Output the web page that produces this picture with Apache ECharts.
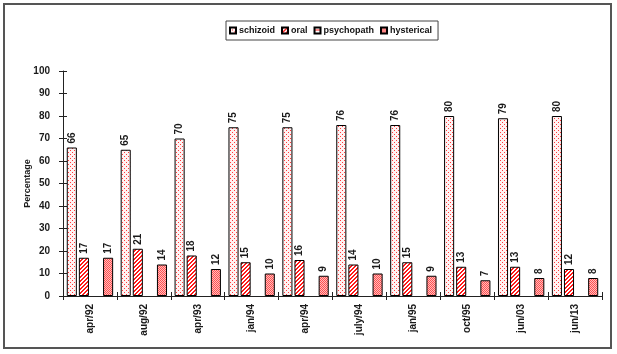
<!DOCTYPE html>
<html>
<head>
<meta charset="utf-8">
<script src="https://cdn.jsdelivr.net/npm/echarts@6/dist/echarts.min.js"></script>
<style>
  html, body { margin: 0; padding: 0; background: #fff; }
  #chart { width: 617px; height: 354px; }
</style>
</head>
<body>
<div id="chart"></div>
<script>
// 数据
var categories = ['apr/92', 'aug/92', 'apr/93', 'jan/94', 'apr/94', 'july/94', 'jan/95', 'oct/95', 'jun/03', 'jun/13']
var schizoid = [66, 65, 70, 75, 75, 76, 76, 80, 79, 80]
var oral = [17, 21, 18, 15, 16, 14, 15, 13, 13, 12]
var psychopath = [null, null, null, null, null, null, null, null, null, null]
var hysterical = [17, 14, 12, 10, 9, 10, 9, 7, 8, 8]
var yTicks = [0, 100, 10] // min, max, interval

var FONT = "'Liberation Sans', Arial, sans-serif"

// 小图案 (Excel 风格填充)
function makePattern(size, bg, fn) {
  var c = document.createElement('canvas')
  c.width = size
  c.height = size
  var ctx = c.getContext('2d')
  ctx.fillStyle = bg
  ctx.fillRect(0, 0, size, size)
  for (var y = 0; y < size; y++) {
    for (var x = 0; x < size; x++) {
      var col = fn(x, y)
      if (col) {
        ctx.fillStyle = col
        ctx.fillRect(x, y, 1, 1)
      }
    }
  }
  return { image: c, repeat: 'repeat' }
}

var patSchizoid = makePattern(4, '#fff2f2', function(x, y) {
  return ((x === 0 && y === 0) || (x === 2 && y === 2)) ? '#ff3c3c' : null
})
var patOral = makePattern(4, '#ffffff', function(x, y) {
  return ((x + y) % 4 < 2) ? '#ff1a1a' : null
})
var patPsycho = makePattern(4, '#ffffff', function(x, y) {
  return (y === 2) ? '#ff1a1a' : null
})
var patHyst = makePattern(2, '#ffbcbc', function(x, y) {
  return (x === y) ? '#ff5050' : null
})

var labelOpt = {
  show: true,
  position: 'top',
  rotate: 90,
  align: 'left',
  verticalAlign: 'middle',
  distance: 4,
  color: '#1a1a1a',
  fontWeight: 'bold',
  fontSize: 10,
  fontFamily: FONT
}

function barSeries(name, data, pat, showLabel) {
  return {
    name: name,
    type: 'bar',
    data: data,
    barGap: '20%',
    barCategoryGap: '14%',
    itemStyle: { color: pat, borderColor: '#000', borderWidth: 1 },
    label: showLabel ? labelOpt : { show: false },
    emphasis: { disabled: true },
    animation: false
  }
}

var chart = echarts.init(document.getElementById('chart'))
chart.setOption({
  backgroundColor: '#fff',
  animation: false,
  graphic: [{
    type: 'rect',
    shape: { x: 4, y: 4, width: 607, height: 344 },
    style: { fill: 'none', stroke: '#555', lineWidth: 2 },
    silent: true
  }],
  legend: {
    left: 226,
    top: 21,
    padding: [5, 6, 5, 3],
    itemGap: 6,
    itemWidth: 6,
    itemHeight: 6,
    borderColor: '#444',
    borderWidth: 1,
    icon: 'rect',
    textStyle: { fontWeight: 'bold', fontSize: 9, fontFamily: FONT, color: '#111', padding: [0, 0, 0, -2] },
    data: ['schizoid', 'oral', 'psychopath', 'hysterical']
  },
  grid: { left: 63, right: 15, top: 71, bottom: 58 },
  xAxis: [{
    type: 'category',
    data: categories,
    axisLine: { lineStyle: { color: '#222', width: 1 } },
    axisTick: { show: true, length: 4, lineStyle: { color: '#222' } },
    axisLabel: {
      rotate: 90,
      margin: 8,
      color: '#1a1a1a',
      fontWeight: 'bold',
      fontSize: 10,
      fontFamily: FONT
    }
  }, {
    type: 'category',
    data: categories,
    position: 'bottom',
    axisLine: { show: false },
    axisTick: { show: true, inside: true, length: 4, lineStyle: { color: '#222' } },
    axisLabel: { show: false }
  }],
  yAxis: [{
    type: 'value',
    min: yTicks[0],
    max: yTicks[1],
    interval: yTicks[2],
    name: 'Percentage',
    nameLocation: 'middle',
    nameGap: 31,
    nameMoveOverlap: false,
    nameTextStyle: { fontWeight: 'bold', fontSize: 9, fontFamily: FONT, color: '#1a1a1a' },
    splitLine: { show: false },
    axisLine: { show: true, lineStyle: { color: '#222' } },
    axisTick: { show: true, length: 4, lineStyle: { color: '#222' } },
    axisLabel: {
      margin: 13,
      color: '#1a1a1a',
      fontWeight: 'bold',
      fontSize: 10,
      fontFamily: FONT
    }
  }, {
    type: 'value',
    min: yTicks[0],
    max: yTicks[1],
    interval: yTicks[2],
    position: 'left',
    splitLine: { show: false },
    axisLine: { show: false },
    axisTick: { show: true, inside: true, length: 4, lineStyle: { color: '#222' } },
    axisLabel: { show: false }
  }],
  series: [
    barSeries('schizoid', schizoid, patSchizoid, true),
    barSeries('oral', oral, patOral, true),
    barSeries('psychopath', psychopath, patPsycho, false),
    barSeries('hysterical', hysterical, patHyst, true)
  ]
})
</script>
</body>
</html>
